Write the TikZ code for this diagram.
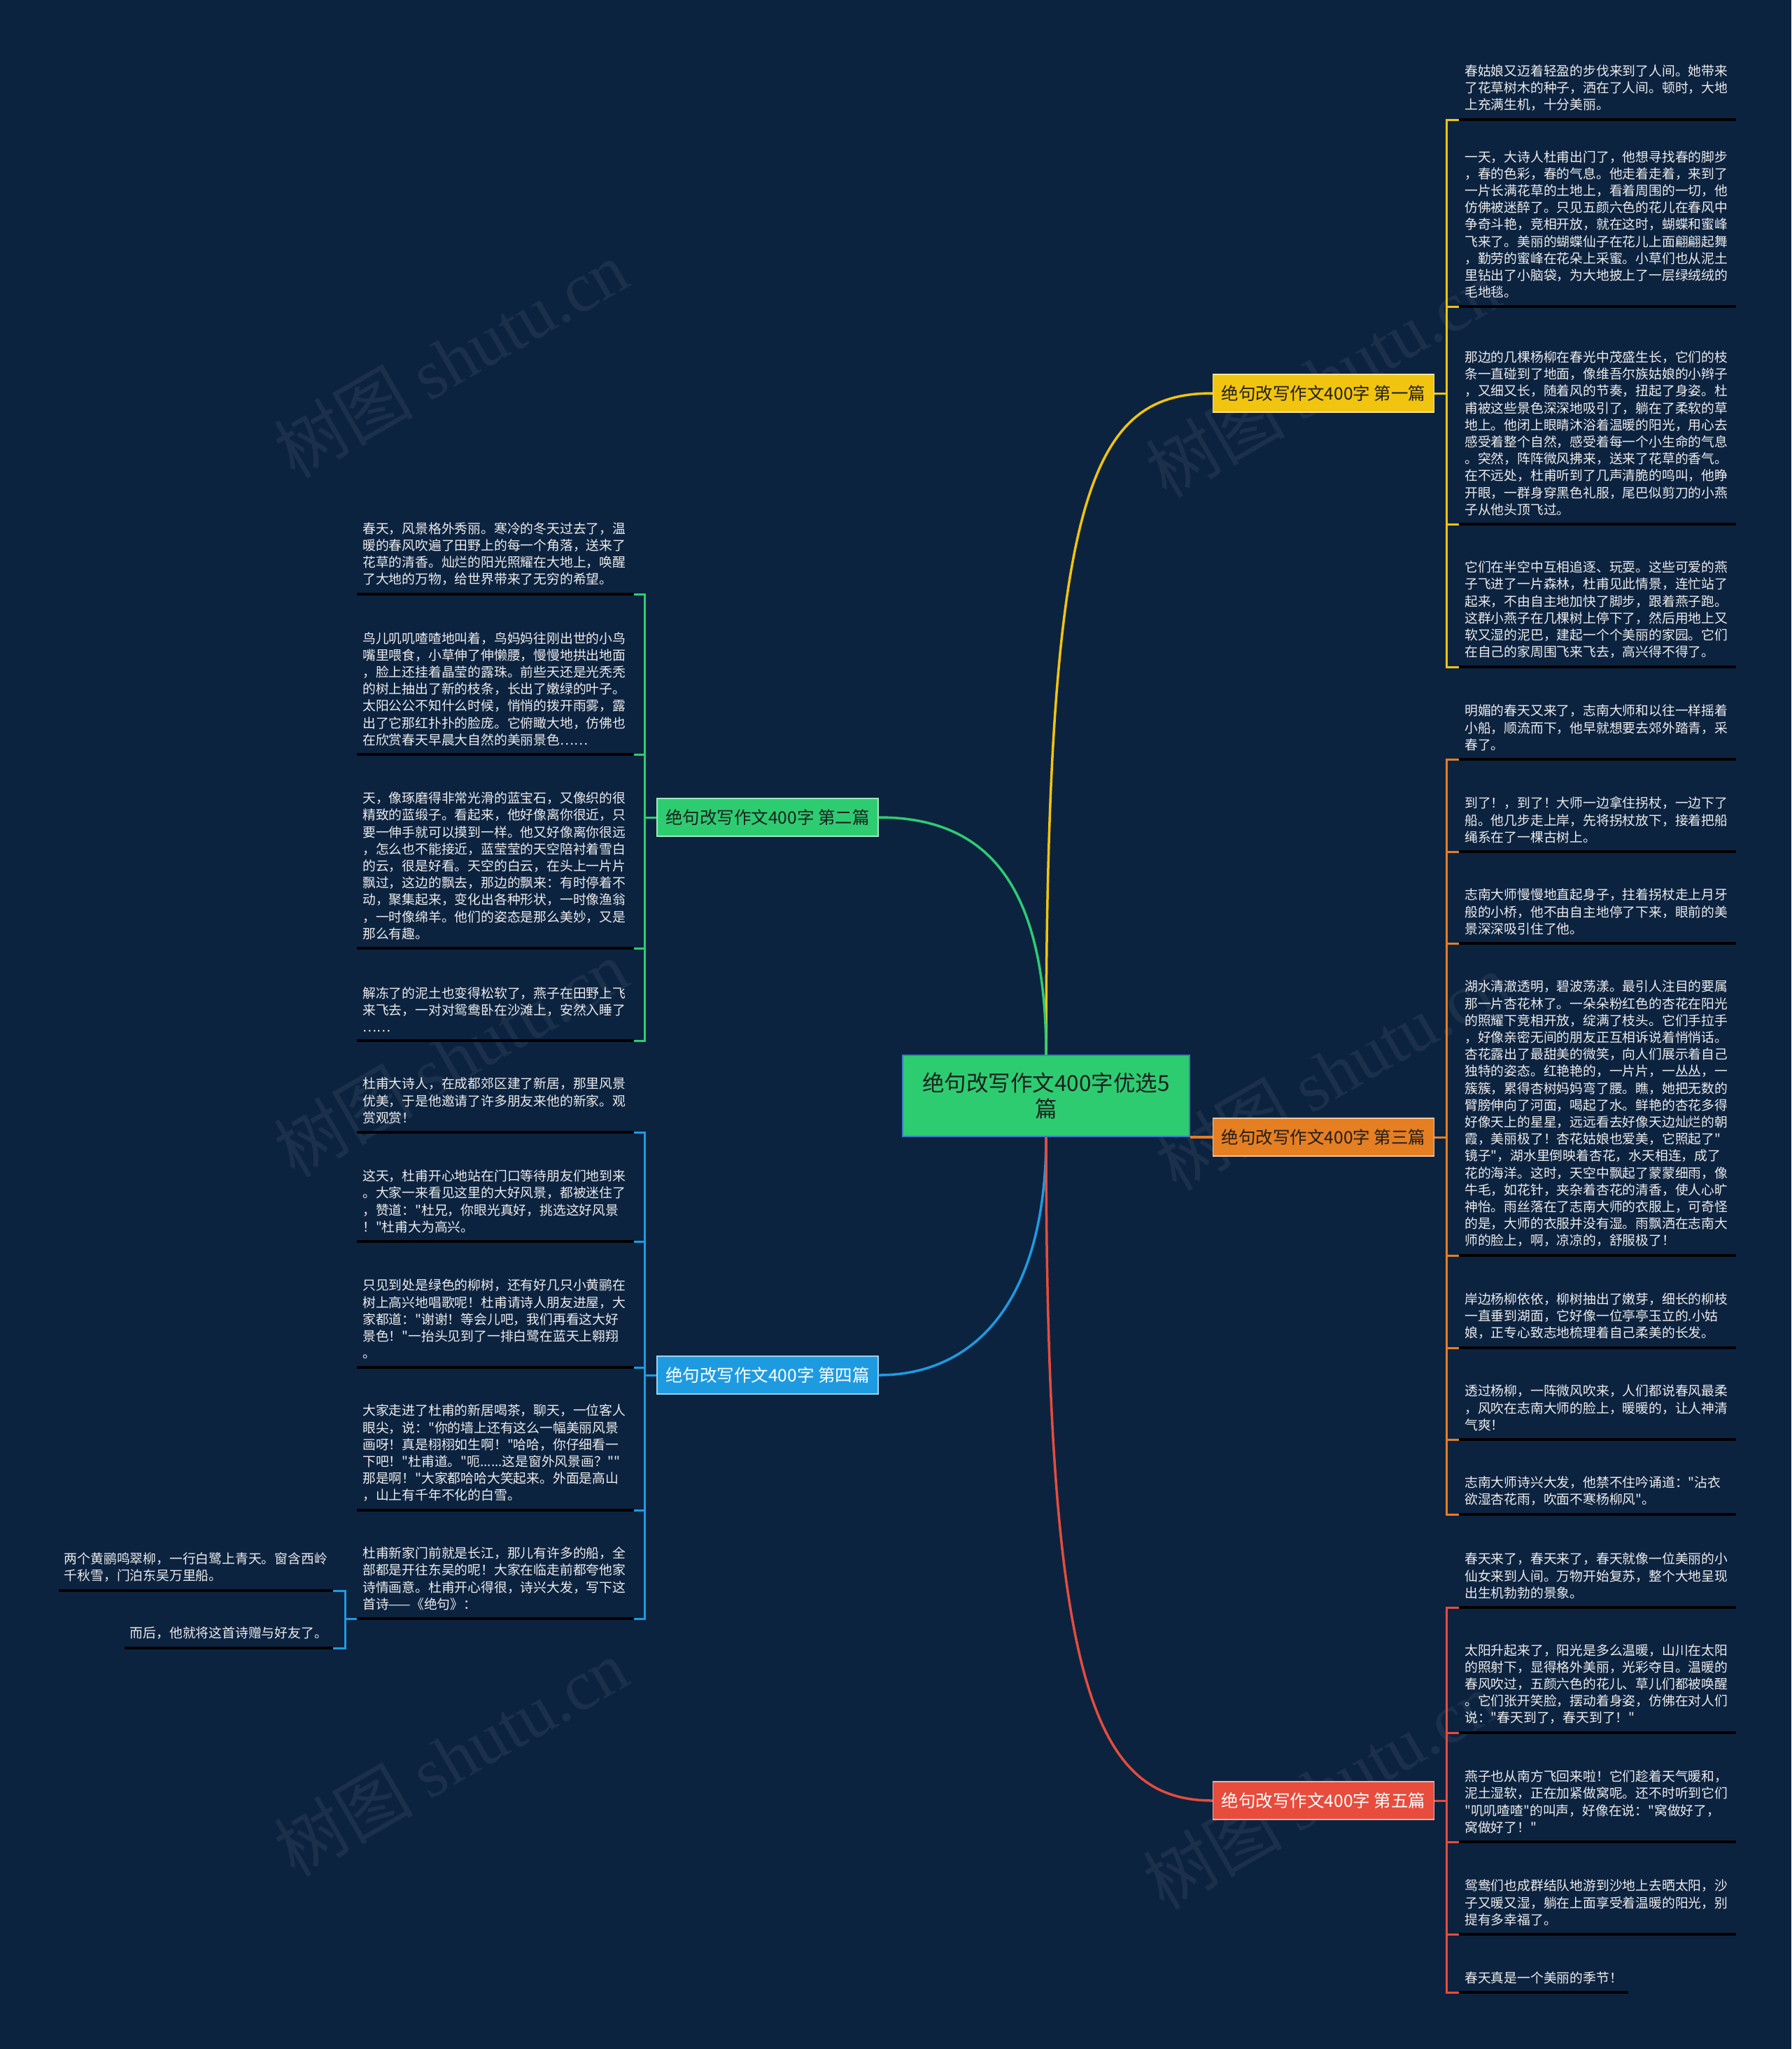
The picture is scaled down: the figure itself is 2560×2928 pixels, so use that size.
\documentclass[tikz,border=0pt]{standalone}
\usepackage{fontspec}
\setmainfont{Noto Sans CJK SC}
\newfontfamily\cnfont{Noto Sans CJK SC}
\newfontfamily\markfont{Liberation Serif}
\usepackage{xcolor}
\usepackage{tikz}
\usetikzlibrary{calc}
\definecolor{mapnavy}{HTML}{0C2340}
\definecolor{mapyellow}{HTML}{F1C40F}
\definecolor{mapgreen}{HTML}{2ECC71}
\definecolor{maporange}{HTML}{E67E22}
\definecolor{mapblue}{HTML}{1E9BE0}
\definecolor{mapred}{HTML}{E74C3C}
\definecolor{rootedge}{HTML}{3A7BC8}
\definecolor{leaftext}{HTML}{ECECEC}
\definecolor{darktext}{HTML}{1E1E1E}
\tikzset{
  rootnode/.style={draw=rootedge,line width=1.5pt,fill=mapgreen,text=darktext,minimum width=410pt,minimum height=116pt,inner sep=0pt,align=center,font=\cnfont\fontsize{31.5}{37}\selectfont},
  branchnode/.style={line width=1.2pt,minimum width=316pt,minimum height=54pt,inner sep=0pt,font=\cnfont\fontsize{24.5}{28}\selectfont},
  leafbase/.style={text=leaftext,align=left,inner xsep=8pt,inner ysep=12pt,font=\cnfont\fontsize{18.8}{24.2}\selectfont},
  leafnode/.style={leafbase,text width=380pt},
  uline/.style={line width=3.5pt,black},
  curve/.style={line width=3.5pt},
  link/.style={line width=3pt},
  wmark/.style={text=mapnavy!94!white,font=\cnfont\fontsize{100}{110}\selectfont,rotate=30}
}

\begin{document}
\begin{tikzpicture}[x=1pt,y=-1pt]
  \fill[mapnavy] (0,0) rectangle (2560,2928);
  \useasboundingbox (0,0) rectangle (2560,2928);
  % watermarks
  \node[wmark] (wm1) at (644,513) {树图 {\markfont shutu.cn}};
  \node[wmark] (wm2) at (1890,541) {树图 {\markfont shutu.cn}};
  \node[wmark] (wm3) at (644,1512) {树图 {\markfont shutu.cn}};
  \node[wmark] (wm4) at (1904,1531) {树图 {\markfont shutu.cn}};
  \node[wmark] (wm5) at (644,2511) {树图 {\markfont shutu.cn}};
  \node[wmark] (wm6) at (1886,2558) {树图 {\markfont shutu.cn}};

  \node[rootnode] (root) at (1495,1566) {绝句改写作文400字优选5\\篇};
  \node[branchnode,fill=mapyellow,draw=mapyellow!45!white,text=darktext] (sec1) at (1891.5,562) {绝句改写作文400字 第一篇};
  \node[branchnode,fill=mapgreen,draw=mapgreen!45!white,text=darktext] (sec2) at (1097,1168) {绝句改写作文400字 第二篇};
  \node[branchnode,fill=maporange,draw=maporange!45!white,text=darktext] (sec3) at (1891.5,1625) {绝句改写作文400字 第三篇};
  \node[branchnode,fill=mapblue,draw=mapblue!45!white,text=white] (sec4) at (1097,1965) {绝句改写作文400字 第四篇};
  \node[branchnode,fill=mapred,draw=mapred!45!white,text=white] (sec5) at (1891.5,2573) {绝句改写作文400字 第五篇};

  \draw[curve,mapyellow] (root.north) .. controls (1495,700) and (1560,562) .. (sec1.west);
  \draw[curve,mapgreen] (root.north) .. controls (1495,1250) and (1400,1168) .. (sec2.east);
  \draw[curve,maporange] (root.east |- sec3.west) -- (sec3.west);
  \draw[curve,mapblue] (root.south) .. controls (1495,1850) and (1400,1965) .. (sec4.east);
  \draw[curve,mapred] (root.south) .. controls (1495,2400) and (1560,2573) .. (sec5.west);

  % 第一篇
  \node[leafnode,anchor=south west] (s1a) at (2085,171) {春姑娘又迈着轻盈的步伐来到了人间。她带来\\了花草树木的种子，洒在了人间。顿时，大地\\上充满生机，十分美丽。};
  \node[leafnode,anchor=south west] (s1b) at (2085,438) {一天，大诗人杜甫出门了，他想寻找春的脚步\\，春的色彩，春的气息。他走着走着，来到了\\一片长满花草的土地上，看着周围的一切，他\\仿佛被迷醉了。只见五颜六色的花儿在春风中\\争奇斗艳，竞相开放，就在这时，蝴蝶和蜜峰\\飞来了。美丽的蝴蝶仙子在花儿上面翩翩起舞\\，勤劳的蜜峰在花朵上采蜜。小草们也从泥土\\里钻出了小脑袋，为大地披上了一层绿绒绒的\\毛地毯。};
  \node[leafnode,anchor=south west] (s1c) at (2085,749) {那边的几棵杨柳在春光中茂盛生长，它们的枝\\条一直碰到了地面，像维吾尔族姑娘的小辫子\\，又细又长，随着风的节奏，扭起了身姿。杜\\甫被这些景色深深地吸引了，躺在了柔软的草\\地上。他闭上眼睛沐浴着温暖的阳光，用心去\\感受着整个自然，感受着每一个小生命的气息\\。突然，阵阵微风拂来，送来了花草的香气。\\在不远处，杜甫听到了几声清脆的鸣叫，他睁\\开眼，一群身穿黑色礼服，尾巴似剪刀的小燕\\子从他头顶飞过。};
  \node[leafnode,anchor=south west] (s1d) at (2085,953) {它们在半空中互相追逐、玩耍。这些可爱的燕\\子飞进了一片森林，杜甫见此情景，连忙站了\\起来，不由自主地加快了脚步，跟着燕子跑。\\这群小燕子在几棵树上停下了，然后用地上又\\软又湿的泥巴，建起一个个美丽的家园。它们\\在自己的家周围飞来飞去，高兴得不得了。};

  % 第三篇
  \node[leafnode,anchor=south west] (s3a) at (2085,1085) {明媚的春天又来了，志南大师和以往一样摇着\\小船，顺流而下，他早就想要去郊外踏青，采\\春了。};
  \node[leafnode,anchor=south west] (s3b) at (2085,1217) {到了！，到了！大师一边拿住拐杖，一边下了\\船。他几步走上岸，先将拐杖放下，接着把船\\绳系在了一棵古树上。};
  \node[leafnode,anchor=south west] (s3c) at (2085,1348) {志南大师慢慢地直起身子，拄着拐杖走上月牙\\般的小桥，他不由自主地停了下来，眼前的美\\景深深吸引住了他。};
  \node[leafnode,anchor=south west] (s3d) at (2085,1794) {湖水清澈透明，碧波荡漾。最引人注目的要属\\那一片杏花林了。一朵朵粉红色的杏花在阳光\\的照耀下竞相开放，绽满了枝头。它们手拉手\\，好像亲密无间的朋友正互相诉说着悄悄话。\\杏花露出了最甜美的微笑，向人们展示着自己\\独特的姿态。红艳艳的，一片片，一丛丛，一\\簇簇，累得杏树妈妈弯了腰。瞧，她把无数的\\臂膀伸向了河面，喝起了水。鲜艳的杏花多得\\好像天上的星星，远远看去好像天边灿烂的朝\\霞，美丽极了！杏花姑娘也爱美，它照起了"\\镜子"，湖水里倒映着杏花，水天相连，成了\\花的海洋。这时，天空中飘起了蒙蒙细雨，像\\牛毛，如花针，夹杂着杏花的清香，使人心旷\\神怡。雨丝落在了志南大师的衣服上，可奇怪\\的是，大师的衣服并没有湿。雨飘洒在志南大\\师的脸上，啊，凉凉的，舒服极了！};
  \node[leafnode,anchor=south west] (s3e) at (2085,1926) {岸边杨柳依依，柳树抽出了嫩芽，细长的柳枝\\一直垂到湖面，它好像一位亭亭玉立的.小姑\\娘，正专心致志地梳理着自己柔美的长发。};
  \node[leafnode,anchor=south west] (s3f) at (2085,2057) {透过杨柳，一阵微风吹来，人们都说春风最柔\\，风吹在志南大师的脸上，暖暖的，让人神清\\气爽！};
  \node[leafnode,anchor=south west] (s3g) at (2085,2164) {志南大师诗兴大发，他禁不住吟诵道："沾衣\\欲湿杏花雨，吹面不寒杨柳风"。};

  % 第五篇
  \node[leafnode,anchor=south west] (s5a) at (2085,2297) {春天来了，春天来了，春天就像一位美丽的小\\仙女来到人间。万物开始复苏，整个大地呈现\\出生机勃勃的景象。};
  \node[leafnode,anchor=south west] (s5b) at (2085,2476) {太阳升起来了，阳光是多么温暖，山川在太阳\\的照射下，显得格外美丽，光彩夺目。温暖的\\春风吹过，五颜六色的花儿、草儿们都被唤醒\\。它们张开笑脸，摆动着身姿，仿佛在对人们\\说："春天到了，春天到了！"};
  \node[leafnode,anchor=south west] (s5c) at (2085,2632) {燕子也从南方飞回来啦！它们趁着天气暖和，\\泥土湿软，正在加紧做窝呢。还不时听到它们\\"叽叽喳喳"的叫声，好像在说："窝做好了，\\窝做好了！"};
  \node[leafnode,anchor=south west] (s5d) at (2085,2764) {鸳鸯们也成群结队地游到沙地上去晒太阳，沙\\子又暖又湿，躺在上面享受着温暖的阳光，别\\提有多幸福了。};
  \node[leafbase,anchor=south west] (s5e) at (2085,2847) {春天真是一个美丽的季节！};

  % 第二篇
  \node[leafnode,anchor=south west] (s2a) at (510,849) {春天，风景格外秀丽。寒冷的冬天过去了，温\\暖的春风吹遍了田野上的每一个角落，送来了\\花草的清香。灿烂的阳光照耀在大地上，唤醒\\了大地的万物，给世界带来了无穷的希望。};
  \node[leafnode,anchor=south west] (s2b) at (510,1078) {鸟儿叽叽喳喳地叫着，鸟妈妈往刚出世的小鸟\\嘴里喂食，小草伸了伸懒腰，慢慢地拱出地面\\，脸上还挂着晶莹的露珠。前些天还是光秃秃\\的树上抽出了新的枝条，长出了嫩绿的叶子。\\太阳公公不知什么时候，悄悄的拨开雨雾，露\\出了它那红扑扑的脸庞。它俯瞰大地，仿佛也\\在欣赏春天早晨大自然的美丽景色……};
  \node[leafnode,anchor=south west] (s2c) at (510,1355) {天，像琢磨得非常光滑的蓝宝石，又像织的很\\精致的蓝缎子。看起来，他好像离你很近，只\\要一伸手就可以摸到一样。他又好像离你很远\\，怎么也不能接近，蓝莹莹的天空陪衬着雪白\\的云，很是好看。天空的白云，在头上一片片\\飘过，这边的飘去，那边的飘来：有时停着不\\动，聚集起来，变化出各种形状，一时像渔翁\\，一时像绵羊。他们的姿态是那么美妙，又是\\那么有趣。};
  \node[leafnode,anchor=south west] (s2d) at (510,1487) {解冻了的泥土也变得松软了，燕子在田野上飞\\来飞去，一对对鸳鸯卧在沙滩上，安然入睡了\\……};

  % 第四篇
  \node[leafnode,anchor=south west] (s4a) at (510,1618) {杜甫大诗人，在成都郊区建了新居，那里风景\\优美，于是他邀请了许多朋友来他的新家。观\\赏观赏！};
  \node[leafnode,anchor=south west] (s4b) at (510,1774) {这天，杜甫开心地站在门口等待朋友们地到来\\。大家一来看见这里的大好风景，都被迷住了\\，赞道："杜兄，你眼光真好，挑选这好风景\\！"杜甫大为高兴。};
  \node[leafnode,anchor=south west] (s4c) at (510,1954) {只见到处是绿色的柳树，还有好几只小黄鹂在\\树上高兴地唱歌呢！杜甫请诗人朋友进屋，大\\家都道："谢谢！等会儿吧，我们再看这大好\\景色！"一抬头见到了一排白鹭在蓝天上翱翔\\。};
  \node[leafnode,anchor=south west] (s4d) at (510,2158) {大家走进了杜甫的新居喝茶，聊天，一位客人\\眼尖，说："你的墙上还有这么一幅美丽风景\\画呀！真是栩栩如生啊！"哈哈，你仔细看一\\下吧！"杜甫道。"呃......这是窗外风景画？""\\那是啊！"大家都哈哈大笑起来。外面是高山\\，山上有千年不化的白雪。};
  \node[leafnode,anchor=south west] (s4e) at (510,2313) {杜甫新家门前就是长江，那儿有许多的船，全\\部都是开往东吴的呢！大家在临走前都夸他家\\诗情画意。杜甫开心得很，诗兴大发，写下这\\首诗——《绝句》：};
  \node[leafbase,anchor=south east] (s4x) at (476,2273) {两个黄鹂鸣翠柳，一行白鹭上青天。窗含西岭\\千秋雪，门泊东吴万里船。};
  \node[leafbase,anchor=south east] (s4y) at (476,2355) {而后，他就将这首诗赠与好友了。};

  % brackets
  \foreach \n in {s1a,s1b,s1c,s1d} \draw[link,mapyellow] (sec1.east) -- ++(17,0) |- (\n.south west);
  \foreach \n in {s3a,s3b,s3c,s3d,s3e,s3f,s3g} \draw[link,maporange] (sec3.east) -- ++(17,0) |- (\n.south west);
  \foreach \n in {s5a,s5b,s5c,s5d,s5e} \draw[link,mapred] (sec5.east) -- ++(17,0) |- (\n.south west);
  \foreach \n in {s2a,s2b,s2c,s2d} \draw[link,mapgreen] (sec2.west) -- ++(-17,0) |- (\n.south east);
  \foreach \n in {s4a,s4b,s4c,s4d,s4e} \draw[link,mapblue] (sec4.west) -- ++(-17,0) |- (\n.south east);
  \foreach \n in {s4x,s4y} \draw[link,mapblue] (s4e.south west) -- ++(-17,0) |- (\n.south east);

  \foreach \n in {s1a,s1b,s1c,s1d,s3a,s3b,s3c,s3d,s3e,s3f,s3g,s5a,s5b,s5c,s5d,s5e,s2a,s2b,s2c,s2d,s4a,s4b,s4c,s4d,s4e,s4x,s4y}
    \draw[uline] (\n.south west) -- (\n.south east);
\end{tikzpicture}
\end{document}
